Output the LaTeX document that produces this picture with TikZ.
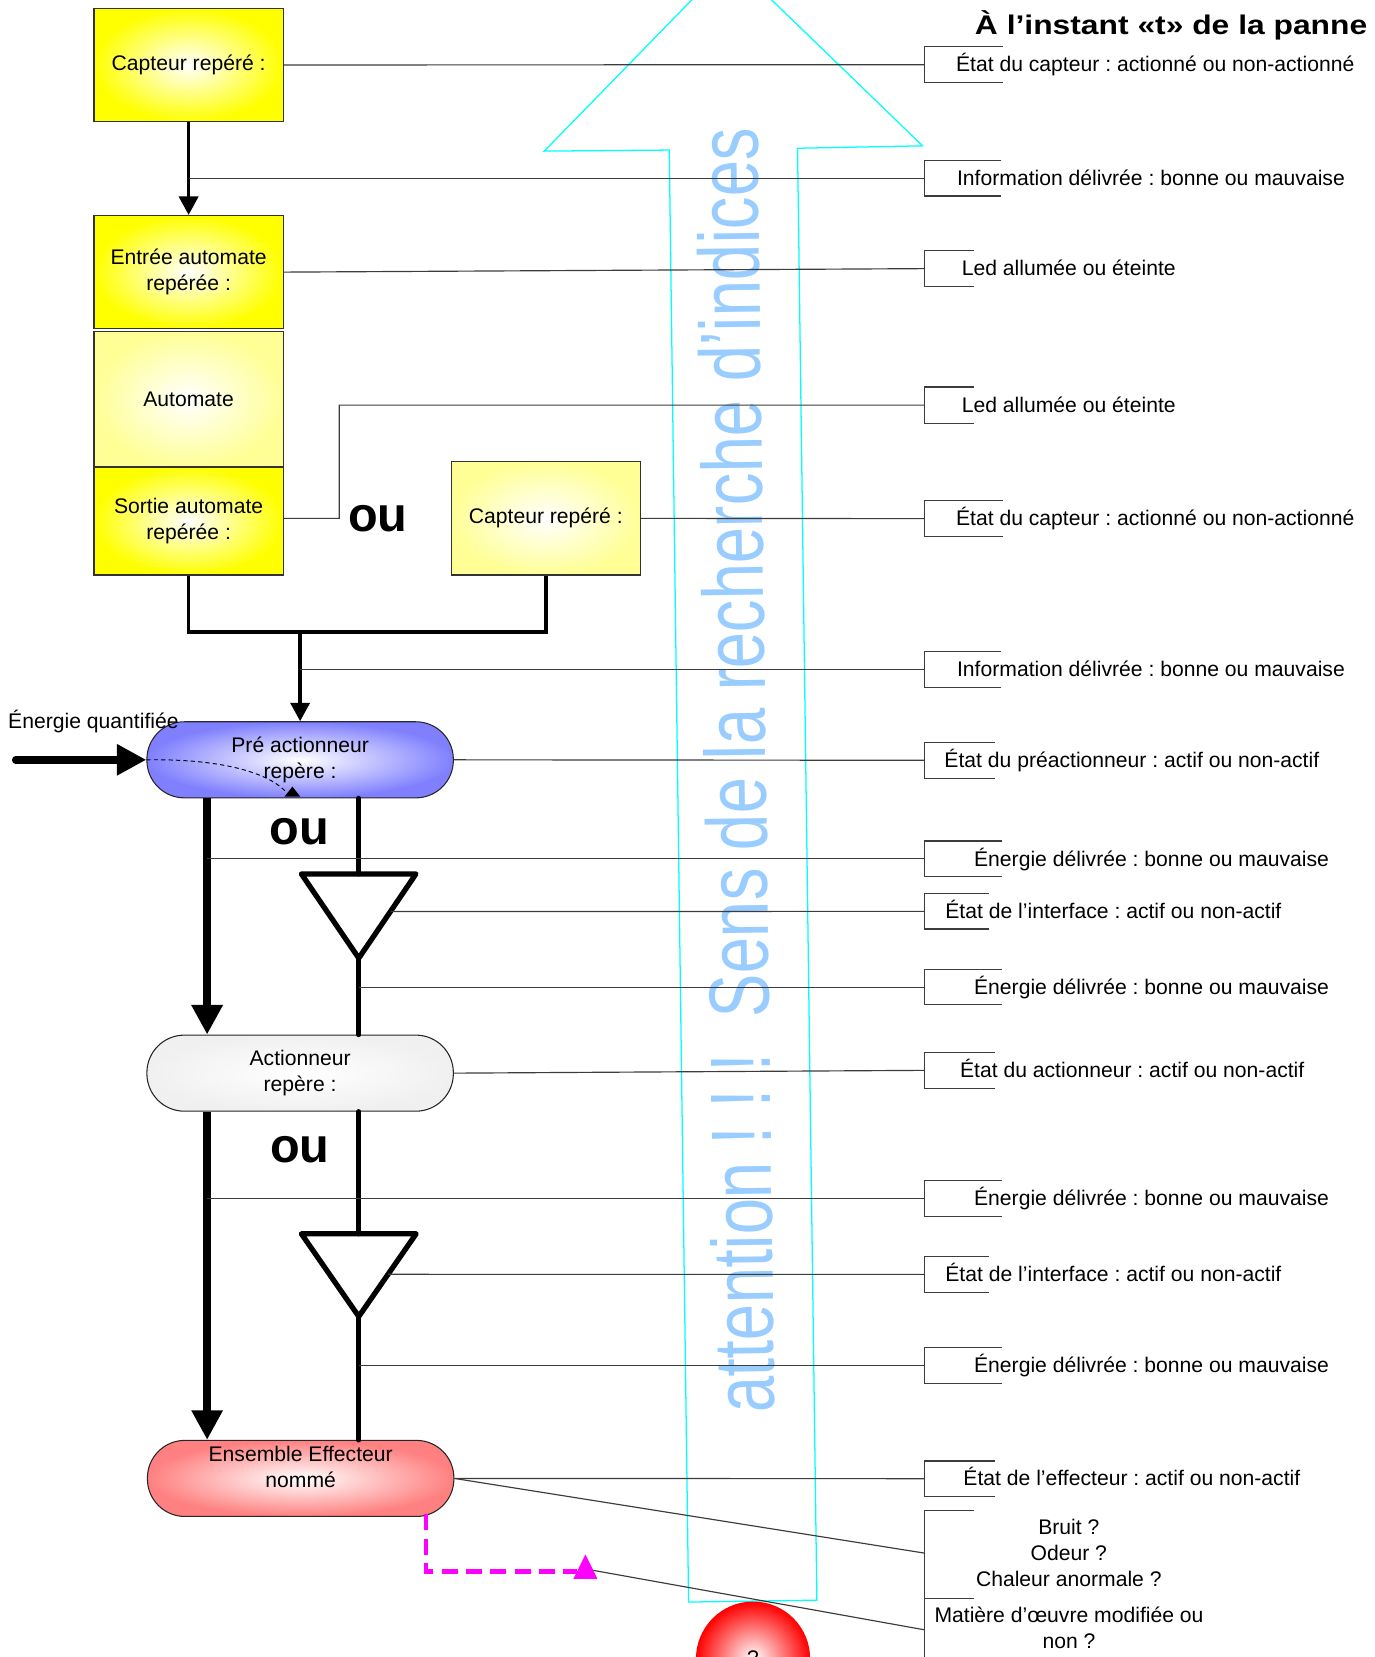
\documentclass[tikz,border=0pt]{standalone}
\usepackage{fontspec}
\setmainfont{Liberation Sans}
\usetikzlibrary{arrows.meta,calc}
\frenchspacing
\definecolor{cyanline}{RGB}{0,255,255}
\definecolor{sensblue}{RGB}{153,204,255}
\definecolor{boxyellow}{RGB}{255,255,0}
\definecolor{paleyellow}{RGB}{255,255,150}
\definecolor{preblue}{RGB}{128,128,255}
\definecolor{actgray}{RGB}{240,240,240}
\definecolor{effred}{RGB}{255,128,128}
\definecolor{linegray}{RGB}{60,60,60}
\definecolor{magentaline}{RGB}{255,0,255}
\newcommand{\mybracket}[4]{%
  \draw[brk] (#4,#2) -- (875,#2) -- (875,#3) -- (#4,#3);
  \coordinate (#1) at (875,{(#2+#3)/2});
}
\begin{document}
\begin{tikzpicture}[x=1pt,y=-1pt,
  every node/.style={font=\fontsize{20}{24.5}\selectfont, inner sep=0pt},
  ybox/.style={draw=black!80, line width=1.2pt, inner color=white, outer color=#1, minimum width=179pt, align=center},
  stad/.style={draw=black!85, line width=1pt, inner color=white, outer color=#1, minimum width=290pt, minimum height=72pt, rounded corners=35.5pt, align=center},
  conn/.style={draw=linegray, line width=1.1pt},
  brk/.style={draw=linegray, line width=1.2pt},
  lbl/.style={anchor=base west},
  flow/.style={line width=3.5pt, -{Triangle[length=17.5pt,width=18pt]}},
  energy/.style={line width=7pt, -{Triangle[length=28pt,width=28pt]}},
  wire/.style={line width=5pt, line join=round, line cap=round},
  oulbl/.style={font=\fontsize{46}{50}\selectfont\bfseries}
]
\useasboundingbox (0,0) rectangle (1301,1568);
\fill[white] (0,0) rectangle (1301,1568);
\clip (0,0) rectangle (1301,1568);

% background arrow and its text
\draw[cyanline, line width=1.2pt, line join=miter] (691.3,-37.7) -- (873,138) -- (754.7,140.3) -- (773,1514.2) -- (651.6,1516) -- (633.3,142) -- (515,143) -- cycle;
\node[rotate=90.76, anchor=base west, text=sensblue, font=\fontsize{81}{90}\selectfont] (sens) at (733,1337) {\scalebox{0.763}[1]{attention ! ! !\ \ Sens de la recherche d’indices}};

% title
\node[anchor=base east, font=\fontsize{25.5}{30}\selectfont\bfseries] (title) at (1294,33) {\scalebox{1.18}[1]{À l’instant «t» de la panne}};

% boxes
\node[ybox=boxyellow, minimum height=107pt] (cap1) at (178.5,61.5) {Capteur repéré :};
\node[ybox=boxyellow, minimum height=107pt] (entree) at (178.5,257.5) {Entrée automate\\repérée :};
\node[ybox=paleyellow, minimum height=128pt] (auto) at (178.5,378) {Automate};
\node[ybox=boxyellow, minimum height=102pt] (sortie) at (178.5,493) {Sortie automate\\repérée :};
\node[ybox=paleyellow, minimum height=107pt] (cap2) at (516.5,490.5) {Capteur repéré :};
\node[oulbl] (ou1) at (357.6,490.6) {ou};

% stadiums
\node[stad=preblue] (pre) at (284,719) {Pré actionneur\\repère :};
\node[stad=actgray] (act) at (284,1015.5) {Actionneur\\repère :};
\node[stad=effred] (ens) at (284.5,1399) {};
\node (enstxt) at (284.5,1388) [align=center] {Ensemble Effecteur\\nommé};
\node[oulbl] (ou2) at (283.5,786.9) {ou};
\node[oulbl] (ou3) at (283.8,1087.8) {ou};

\node[anchor=base west] (eq) at (7.6,689) {Énergie quantifiée};
\node[circle, minimum size=108pt, inner color=white, outer color=red] (ball) at (712.6,1569.5) {?};

% helper coordinates
\coordinate (xl) at (196,0);
\coordinate (xr) at (339.5,0);
\coordinate (jl) at (178.5,598);
\coordinate (jm) at (284,598);
\coordinate (jr) at (516.5,598);
\coordinate (kink) at (321,383.35);
\coordinate (es) at (14.8,719);
\coordinate (t1a) at (285.2,827);
\coordinate (t1b) at (393.6,827);
\coordinate (t1c) at (339.5,906.7);
\coordinate (t2a) at (285.2,1167.5);
\coordinate (t2b) at (393.8,1167.5);
\coordinate (t2c) at (339.5,1245.8);
\coordinate (t1e) at ($(t1b)!0.445!(t1c)$);
\coordinate (t2e) at ($(t2b)!0.49!(t2c)$);

% flow of information
\draw[flow] (cap1.south) -- (entree.north);
\draw[line width=3.5pt, line join=miter] (sortie.south) -- (jl) -- (jr) -- (cap2.south);
\draw[flow] (jm) -- (pre.north);

% energy
\draw[energy, line cap=round] (es) -- (pre.west);
\draw[dash pattern=on 4pt off 3pt, line width=0.9pt] (pre.west) .. controls (200,718) and (250,728) .. (270.3,749);
\fill (269.3,753.8) -- (284.1,753.8) -- (276.7,744.3) -- cycle;
\draw[energy] (xl |- pre.south) -- (xl |- act.north);
\draw[energy] (xl |- act.south) -- (xl |- ens.north);
\draw[wire] (xr |- pre.south) -- (xr |- t1a);
\draw[wire] (t1a) -- (t1b) -- (t1c) -- cycle;
\draw[wire] (t1c) -- (xr |- act.north);
\draw[wire] (xr |- act.south) -- (xr |- t2a);
\draw[wire] (t2a) -- (t2b) -- (t2c) -- cycle;
\draw[wire] (t2c) -- (xr |- ens.north);

% magenta feedback
\coordinate (ms) at (403,1433);
\coordinate (mc) at (403,1487);
\coordinate (me) at (546,1487);
\coordinate (mtr) at (561.4,1486);
\draw[magentaline, line width=4.5pt, dash pattern=on 15pt off 8pt] (ms) -- (mc) -- (me);
\fill[magentaline] (542.6,1494) -- (565.4,1494) -- (554,1471) -- cycle;

% brackets
\mybracket{b1}{44.2}{78.2}{948.7}
\mybracket{b2}{151.7}{185.5}{947.4}
\mybracket{b3}{237.2}{271.2}{921.3}
\mybracket{b4}{366.2}{400.5}{921.3}
\mybracket{b5}{473.6}{508}{948.7}
\mybracket{b6}{616.6}{650.7}{947}
\mybracket{b7}{702.4}{736.5}{941.4}
\mybracket{b8}{795.8}{829.5}{947.7}
\mybracket{b9}{845.8}{879.1}{935.5}
\mybracket{b10}{917.5}{950.8}{947.7}
\mybracket{b11}{996}{1029.7}{941.4}
\mybracket{b12}{1117.4}{1151.2}{947.7}
\mybracket{b13}{1189}{1222.8}{935.5}
\mybracket{b14}{1274.8}{1308.9}{947.7}
\mybracket{b15}{1382.4}{1416.1}{941.4}
\draw[brk] (921.3,1429.4) -- (875,1429.4) -- (875,1512.9) -- (921.3,1512.9);
\draw[brk] (875,1512.9) -- (875,1600);
\coordinate (b16) at (875,1469.7);
\coordinate (b17) at (875,1542.3);

% labels
\node[lbl] (l1) at (904.5,68) {État du capteur : actionné ou non-actionné};
\node[lbl] (l2) at (905.5,175.4) {Information délivrée : bonne ou mauvaise};
\node[lbl] (l3) at (910,261) {Led allumée ou éteinte};
\node[lbl] (l4) at (910,390.2) {Led allumée ou éteinte};
\node[lbl] (l5) at (904.5,497.6) {État du capteur : actionné ou non-actionné};
\node[lbl] (l6) at (905.5,640.5) {Information délivrée : bonne ou mauvaise};
\node[lbl] (l7) at (893.5,726.3) {État du préactionneur : actif ou non-actif};
\node[lbl] (l8) at (921.6,819.5) {Énergie délivrée : bonne ou mauvaise};
\node[lbl] (l9) at (894.4,869.3) {État de l’interface : actif ou non-actif};
\node[lbl] (l10) at (921.6,941) {Énergie délivrée : bonne ou mauvaise};
\node[lbl] (l11) at (908.3,1019.7) {État du actionneur : actif ou non-actif};
\node[lbl] (l12) at (921.6,1141.1) {Énergie délivrée : bonne ou mauvaise};
\node[lbl] (l13) at (894.4,1212.7) {État de l’interface : actif ou non-actif};
\node[lbl] (l14) at (921.6,1298.7) {Énergie délivrée : bonne ou mauvaise};
\node[lbl] (l15) at (911.5,1406) {État de l’effecteur : actif ou non-actif};
\node[align=center, anchor=base] (l16) at (1011.4,1501) {Bruit ?\\Odeur ?\\Chaleur anormale ?};
\node[align=center, anchor=base] (l17) at (1011.6,1560.3) {Matière d’œuvre modifiée ou\\non ?};

% connectors to labels
\draw[conn] (cap1.east) -- (b1);
\draw[conn] (cap1.south |- b2) -- (b2);
\draw[conn] (entree.east) -- (b3);
\draw[conn] (sortie.east |- cap2.east) -| (kink) -- (b4);
\draw[conn] (cap2.east) -- (b5);
\draw[conn] (jm |- b6) -- (b6);
\draw[conn] (pre.east) -- (b7);
\draw[conn] (xl |- b8) -- (b8);
\draw[conn] (t1e) -- (b9);
\draw[conn] (xr |- b10) -- (b10);
\draw[conn] (act.east) -- (b11);
\draw[conn] (xl |- b12) -- (b12);
\draw[conn] (t2e) -- (b13);
\draw[conn] (xr |- b14) -- (b14);
\draw[conn] (ens.east) -- (b15);
\draw[conn] (ens.east) -- (b16);
\draw[conn] (mtr) -- (b17);
\end{tikzpicture}
\end{document}
